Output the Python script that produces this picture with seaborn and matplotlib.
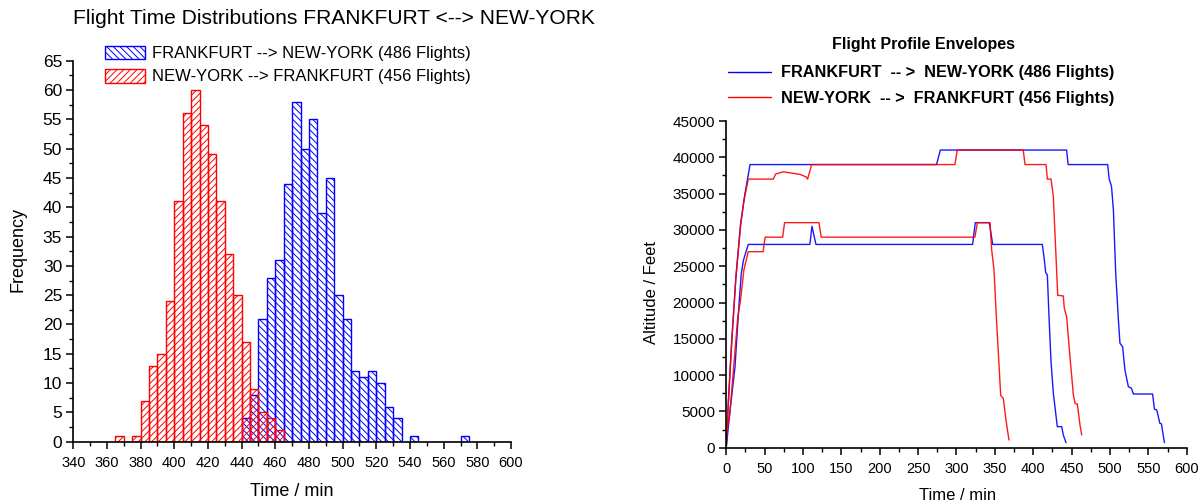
import matplotlib
matplotlib.use('Agg')
import matplotlib.pyplot as plt
import matplotlib.patches as mpatches
from matplotlib.lines import Line2D
from matplotlib.ticker import MultipleLocator
import numpy as np
import pandas as pd
import seaborn as sns

# flight time histogram, 5 min bins (left edge of bin)
fra_nyc_bins = [440, 445, 450, 455, 460, 465, 470, 475, 480, 485, 490, 495,
                500, 505, 510, 515, 520, 525, 530, 540, 570]
fra_nyc_counts = [4, 8, 21, 28, 31, 44, 58, 50, 55, 39, 45, 25,
                  21, 12, 11, 12, 10, 6, 4, 1, 1]
nyc_fra_bins = [365, 375, 380, 385, 390, 395, 400, 405, 410, 415, 420, 425,
                430, 435, 440, 445, 450, 455, 460]
nyc_fra_counts = [1, 1, 7, 13, 15, 24, 41, 56, 60, 54, 49, 41,
                  32, 25, 17, 9, 5, 4, 2]

label_fra_nyc = 'FRANKFURT --> NEW-YORK (486 Flights)'
label_nyc_fra = 'NEW-YORK --> FRANKFURT (456 Flights)'
label2_fra_nyc = 'FRANKFURT  -- >  NEW-YORK (486 Flights)'
label2_nyc_fra = 'NEW-YORK  -- >  FRANKFURT (456 Flights)'

# flight profile envelopes (time in min, altitude in feet)
fra_nyc_high_t = [0, 2.6, 7, 12.6, 18.7, 24.4, 31, 274, 279, 443.5, 445.5, 497, 499, 502,
                  504.5, 507.5, 511, 513, 516.5, 519.5, 524, 528, 530.5, 555.5, 558,
                  561, 565, 567, 571]
fra_nyc_high_alt = [0, 6000, 14400, 23500, 30900, 35000, 39000, 39000, 41000, 41000, 39000,
                    39000, 37000, 36000, 32700, 24000, 17600, 14400, 13900, 10700, 8400,
                    8200, 7400, 7400, 5300, 5200, 3350, 3300, 700]
fra_nyc_low_t = [0, 4.8, 11.3, 17, 19.6, 22.5, 28.7, 109, 111.7, 116.9, 321, 324.5, 342.8,
                 347.2, 411.8, 414, 416.3, 418.4, 420.6, 423.2, 426.2, 431.4, 437.1, 439.2,
                 442.7]
fra_nyc_low_alt = [0, 5000, 11000, 20300, 24000, 25850, 28000, 28000, 30500, 28000, 28000,
                   31000, 31000, 28000, 28000, 26300, 24100, 23800, 18000, 11850, 7500,
                   2900, 2900, 1750, 700]
nyc_fra_high_t = [0, 2.6, 7, 12.6, 18.7, 23, 28.7, 61.3, 64.4, 74.3, 80.8, 96, 104, 106,
                  111.3, 298, 301, 387, 389.3, 416.7, 418.4, 423.2, 426.2, 429.7, 431.9,
                  439.2, 440.5, 443.6, 447.9, 452.3, 454.5, 457.5, 461, 463.2]
nyc_fra_high_alt = [0, 6000, 14400, 23500, 30500, 34000, 37000, 37000, 37700, 38000, 37900,
                    37650, 37300, 37000, 39000, 39000, 41000, 41000, 39000, 39000, 37000,
                    37000, 34600, 26300, 21000, 20900, 19200, 18000, 12500, 7300, 6100,
                    6000, 3100, 1750]
nyc_fra_low_t = [0, 4.7, 10, 15, 18.6, 23, 28.7, 48, 50.7, 73.5, 76, 120.8, 123.8, 324,
                 327.2, 343.7, 345.9, 348.9, 352.4, 355.8, 357.6, 361, 364.5, 368.4]
nyc_fra_low_alt = [1800, 4700, 11500, 18000, 20300, 24500, 27000, 27000, 29000, 29000,
                   31000, 31000, 29000, 29000, 31000, 31000, 27200, 24500, 17100, 10700,
                   7200, 6800, 3800, 1060]

sns.set_style('ticks')
plt.rcParams['font.family'] = ['Liberation Sans', 'DejaVu Sans']
plt.rcParams['hatch.linewidth'] = 0.7
plt.rcParams['text.color'] = 'black'
plt.rcParams['axes.labelcolor'] = 'black'
plt.rcParams['xtick.color'] = 'black'
plt.rcParams['ytick.color'] = 'black'

fig = plt.figure(figsize=(12.01, 5.04), dpi=100)
ax1 = fig.add_axes([0.0610, 0.1236, 0.3645, 0.756])
ax2 = fig.add_axes([0.6047, 0.1117, 0.3834, 0.6482])

# ---- left: histogram
edges = list(range(340, 605, 5))
blue_hatch = '\\\\\\\\\\'
red_hatch = '/////'
hist_blue = pd.DataFrame({'t': np.array(fra_nyc_bins) + 2.5, 'n': fra_nyc_counts})
hist_red = pd.DataFrame({'t': np.array(nyc_fra_bins) + 2.5, 'n': nyc_fra_counts})
sns.histplot(data=hist_blue, x='t', weights='n', bins=edges,
             fill=False, color='blue', linewidth=1, ax=ax1)
n_blue = len(ax1.patches)
sns.histplot(data=hist_red, x='t', weights='n', bins=edges,
             fill=False, color='red', linewidth=1, ax=ax1)
for i, p in enumerate(ax1.patches):
    if p.get_height() == 0:
        p.set_visible(False)
    p.set_hatch(blue_hatch if i < n_blue else red_hatch)

ax1.set_xlim(340, 600)
ax1.set_ylim(0, 65)
ax1.xaxis.set_major_locator(MultipleLocator(20))
ax1.xaxis.set_minor_locator(MultipleLocator(10))
ax1.yaxis.set_major_locator(MultipleLocator(5))
ax1.yaxis.set_minor_locator(MultipleLocator(2.5))
ax1.set_xlabel('')
ax1.set_ylabel('')
ax1.tick_params(axis='x', labelsize=10.5, pad=5)
ax1.tick_params(axis='y', labelsize=12.5, pad=3)
sns.despine(ax=ax1)

handles1 = [mpatches.Patch(facecolor='none', edgecolor='blue', hatch=blue_hatch, lw=1),
            mpatches.Patch(facecolor='none', edgecolor='red', hatch=red_hatch, lw=1)]
fig.legend(handles1, [label_fra_nyc, label_nyc_fra], loc='upper left',
           bbox_to_anchor=(105 / 1201, 1 - 45.5 / 504), frameon=False, fontsize=12,
           borderpad=0, borderaxespad=0, handlelength=2.4, handleheight=0.9,
           handletextpad=0.45, labelspacing=0.46)

fig.text(334 / 1201, 1 - 18 / 504, 'Flight Time Distributions FRANKFURT <--> NEW-YORK',
         ha='center', va='center', fontsize=15.1)
fig.text(292 / 1201, 1 - 492 / 504, 'Time / min', ha='center', va='center', fontsize=13)
fig.text(18 / 1201, 1 - 250 / 504, 'Frequency', ha='center', va='center',
         rotation=90, fontsize=13)

# ---- right: flight profile envelopes
rows = []
for route, env, ts, alts in [
        ('FRA-NYC', 'high', fra_nyc_high_t, fra_nyc_high_alt),
        ('FRA-NYC', 'low', fra_nyc_low_t, fra_nyc_low_alt),
        ('NYC-FRA', 'high', nyc_fra_high_t, nyc_fra_high_alt),
        ('NYC-FRA', 'low', nyc_fra_low_t, nyc_fra_low_alt)]:
    for t, a in zip(ts, alts):
        rows.append({'route': route, 'env': route + env, 'time': t, 'alt': a})
profiles = pd.DataFrame(rows)

sns.lineplot(data=profiles, x='time', y='alt', hue='route', units='env',
             estimator=None, sort=False, palette={'FRA-NYC': 'blue', 'NYC-FRA': 'red'},
             linewidth=1, alpha=0.9, legend=False, ax=ax2)
ax2.set_xlim(0, 600)
ax2.set_ylim(0, 45000)
ax2.xaxis.set_major_locator(MultipleLocator(50))
ax2.xaxis.set_minor_locator(MultipleLocator(25))
ax2.yaxis.set_major_locator(MultipleLocator(5000))
ax2.yaxis.set_minor_locator(MultipleLocator(2500))
ax2.set_xlabel('')
ax2.set_ylabel('')
ax2.tick_params(axis='x', labelsize=10.5, pad=5)
ax2.tick_params(axis='y', labelsize=11, pad=3)
sns.despine(ax=ax2)

handles2 = [Line2D([], [], color='blue', lw=1), Line2D([], [], color='red', lw=1)]
fig.legend(handles2, [label2_fra_nyc, label2_nyc_fra], loc='upper left',
           bbox_to_anchor=(728 / 1201, 1 - 65.5 / 504), frameon=False,
           prop={'weight': 'bold', 'size': 11.7}, borderpad=0, borderaxespad=0,
           handlelength=2.65, handletextpad=0.6, labelspacing=0.62)

fig.text(923 / 1201, 1 - 44 / 504, 'Flight Profile Envelopes', ha='center', va='center',
         fontsize=11.5, fontweight='bold')
fig.text(958 / 1201, 1 - 495 / 504, 'Time / min', ha='center', va='center', fontsize=12)
fig.text(651 / 1201, 1 - 292 / 504, 'Altitude / Feet', ha='center', va='center',
         rotation=90, fontsize=12)

for ax in (ax1, ax2):
    for s in ('left', 'bottom'):
        ax.spines[s].set_linewidth(1.2)
        ax.spines[s].set_color('black')
    ax.tick_params(which='major', direction='out', length=5, width=1.1, colors='black')
    ax.tick_params(which='minor', direction='out', length=3, width=1, colors='black')

fig.savefig('out.png', dpi=100)
